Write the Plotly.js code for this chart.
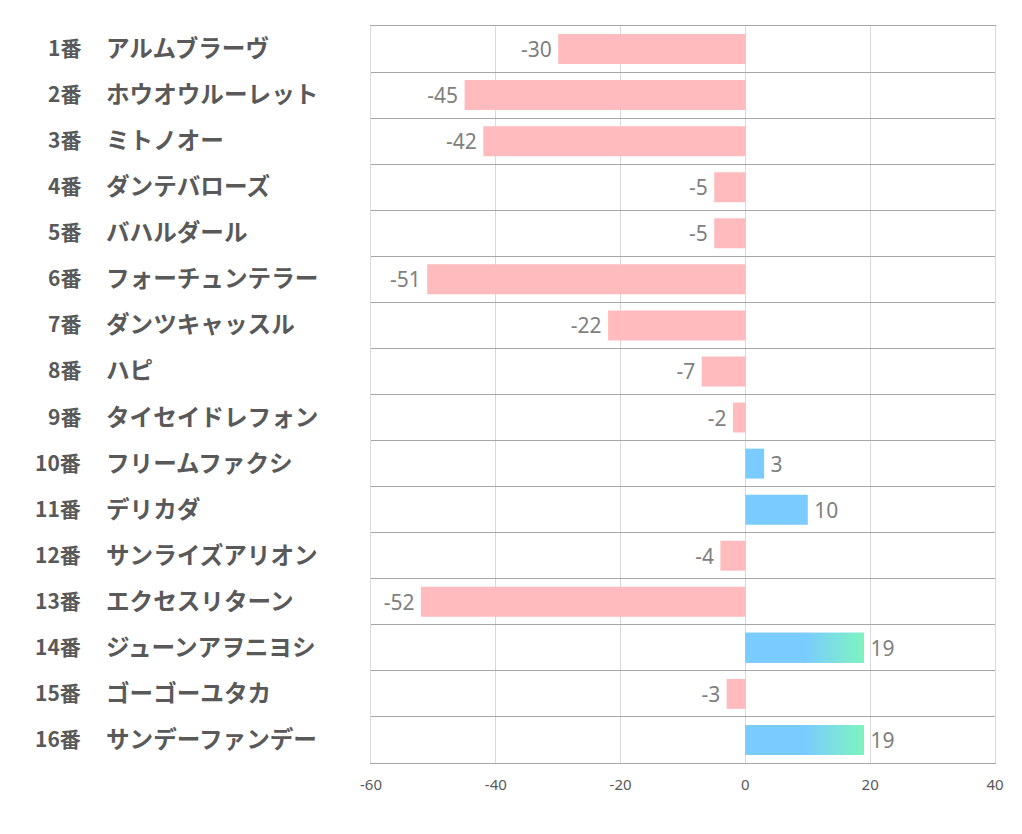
<!DOCTYPE html>
<html>
<head>
<meta charset="utf-8">
<script src="https://cdn.plot.ly/plotly-3.0.1.min.js"></script>
<style>html,body{margin:0;padding:0;background:#fff;}#chart{width:1022px;height:834px;}</style>
</head>
<body>
<div id="chart"></div>
<script>
const numbers = ["1番","2番","3番","4番","5番","6番","7番","8番","9番","10番","11番","12番","13番","14番","15番","16番"];
const horses = ["アルムブラーヴ","ホウオウルーレット","ミトノオー","ダンテバローズ","バハルダール","フォーチュンテラー","ダンツキャッスル","ハピ","タイセイドレフォン","フリームファクシ","デリカダ","サンライズアリオン","エクセスリターン","ジューンアヲニヨシ","ゴーゴーユタカ","サンデーファンデー"];
const values = [-30,-45,-42,-5,-5,-51,-22,-7,-2,3,10,-4,-52,19,-3,19];
const xTicks = [-60,-40,-20,0,20,40];

const PINK = '#FFBBBD', BLUE = '#7ACBFF', GREEN = '#7DF5BF';
const BARW = 0.65;
const idx = values.map((v,i)=>i);
const gradThreshold = 15;
const TS = '\u2009';

const bars = {
  type:'bar', orientation:'h', x:values, y:idx, width:BARW,
  marker:{color:values.map(v=>v<0?PINK:BLUE), line:{width:0}},
  text:values.map(v=> v<0 ? String(v)+TS : TS+String(v)), textposition:'outside', cliponaxis:false,
  textfont:{family:'"Noto Sans", "Open Sans", sans-serif', size:21, color:'#7F7F7F'},
  hoverinfo:'none'
};

// gradient overlay for the top positive bars
const gx=[], gy=[];
values.forEach((v,i)=>{
  if(v>=gradThreshold){
    const h=BARW/2;
    gx.push(0,v,v,0,0,null); gy.push(i-h,i-h,i+h,i+h,i-h,null);
  }
});
const grad = {
  type:'scatter', mode:'lines', x:gx, y:gy, fill:'toself', line:{width:0},
  fillgradient:{type:'horizontal', colorscale:[[0,BLUE],[0.5,BLUE],[1,GREEN]]},
  hoverinfo:'none', showlegend:false
};

const LEFT=371, RIGHT=27, TOP=26, BOTTOM=71, W=1022, H=834;
const pw = W-LEFT-RIGHT;
const annotations=[];
numbers.forEach((n,i)=>{
  annotations.push({xref:'paper', yref:'y', x:(83-LEFT)/pw, y:i, xanchor:'right', yanchor:'middle', yshift:2,
    text:'<b>'+n+'</b>', showarrow:false,
    font:{family:'"Noto Sans CJK JP", sans-serif', size:21, color:'#595959'}});
  annotations.push({xref:'paper', yref:'y', x:(104-LEFT)/pw, y:i, xanchor:'left', yanchor:'middle', yshift:2,
    text:'<b>'+horses[i]+'</b>', showarrow:false,
    font:{family:'"Noto Sans CJK JP", sans-serif', size:23.6, color:'#595959'}});
});

const bounds=[]; for(let k=-0.5;k<=values.length-0.5;k+=1) bounds.push(k);

const layout = {
  width:W, height:H,
  margin:{l:LEFT, r:RIGHT, t:TOP, b:BOTTOM, pad:0},
  paper_bgcolor:'#fff', plot_bgcolor:'#fff',
  showlegend:false, hovermode:false,
  xaxis:{range:[-60,40], tickvals:xTicks, ticktext:xTicks.map(String),
    showgrid:true, gridcolor:'#D9D9D9', gridwidth:1, zeroline:false,
    showline:true, mirror:true, linecolor:'#A6A6A6', linewidth:1,
    ticks:'outside', ticklen:8, tickcolor:'rgba(0,0,0,0)',
    tickfont:{family:'"Noto Sans", "Open Sans", sans-serif', size:15, color:'#595959'}, fixedrange:true},
  yaxis:{range:[values.length-0.5,-0.5], tickvals:bounds, showticklabels:false, ticks:'',
    showgrid:true, gridcolor:'#A6A6A6', gridwidth:1, zeroline:false,
    showline:true, mirror:true, linecolor:'#D9D9D9', linewidth:1, fixedrange:true},
  annotations:annotations
};

Plotly.newPlot('chart',[bars,grad],layout,{displayModeBar:false, staticPlot:true});
</script>
</body>
</html>
